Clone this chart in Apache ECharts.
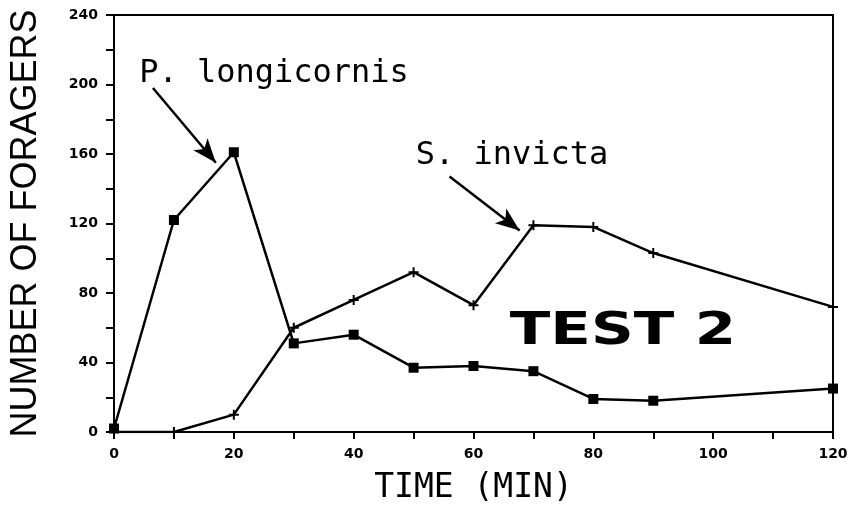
<!DOCTYPE html>
<html>
<head>
<meta charset="utf-8">
<script src="https://cdn.jsdelivr.net/npm/echarts@6/dist/echarts.min.js"></script>
<style>
  html, body { margin: 0; padding: 0; background: #fff; }
  #main { width: 856px; height: 510px; }
</style>
</head>
<body>
<div id="main"></div>
<script>
// time in minutes
var times = [0, 10, 20, 30, 40, 50, 60, 70, 80, 90, 120];
// number of foragers
var longicornis = [2, 122, 161, 51, 56, 37, 38, 35, 19, 18, 25];
var invicta = [0, 0, 10, 60, 76, 92, 73, 119, 118, 103, 72];

// arrows: [fromX, fromY, toX, toY] in data units
var arrowP = [6.5, 198, 17, 155];
var arrowS = [56, 147, 67.7, 116];

function pairs(xs, ys) {
    return xs.map(function (x, i) { return [x, ys[i]]; });
}

function arrow(a) {
    return [[{coord: [a[0], a[1]]}, {coord: [a[2], a[3]]}]];
}

var black = '#000';
var plus = 'path://M4,0H6V4H10V6H6V10H4V6H0V4H4Z';

var option = {
    backgroundColor: '#fff',
    animation: false,
    grid: {
        left: 111, right: 23, top: 15, bottom: 77,
        show: true, borderColor: black, borderWidth: 2
    },
    xAxis: {
        type: 'value',
        min: 0, max: 120, interval: 20,
        name: 'TIME (MIN)',
        nameLocation: 'middle',
        nameGap: 40,
        nameTextStyle: {color: black, fontSize: 33, fontFamily: 'DejaVu Sans Mono'},
        axisLine: {lineStyle: {color: black, width: 2}},
        axisTick: {length: 7, lineStyle: {color: black, width: 2}},
        minorTick: {show: true, splitNumber: 2, length: 7, lineStyle: {color: black, width: 2}},
        axisLabel: {color: black, fontSize: 14, fontWeight: 'bold', fontFamily: 'DejaVu Sans', margin: 15},
        splitLine: {show: false}
    },
    yAxis: {
        type: 'value',
        min: 0, max: 240, interval: 40,
        name: 'NUMBER OF FORAGERS',
        nameLocation: 'middle',
        nameGap: 70,
        nameTextStyle: {color: black, fontSize: 36, fontFamily: 'Liberation Sans'},
        axisLine: {lineStyle: {color: black, width: 2}},
        axisTick: {length: 8, lineStyle: {color: black, width: 2}},
        minorTick: {show: true, splitNumber: 2, length: 8, lineStyle: {color: black, width: 2}},
        axisLabel: {color: black, fontSize: 14, fontWeight: 'bold', fontFamily: 'DejaVu Sans', margin: 16},
        splitLine: {show: false}
    },
    series: [
        {
            name: 'P. longicornis',
            type: 'line',
            data: pairs(times, longicornis),
            symbol: 'rect',
            symbolSize: 10,
            itemStyle: {color: black},
            lineStyle: {color: black, width: 2.5},
            markLine: {
                silent: true,
                symbol: ['none', 'arrow'],
                symbolSize: [14, 24],
                label: {show: false},
                lineStyle: {color: black, width: 2.5, type: 'solid'},
                data: arrow(arrowP)
            }
        },
        {
            name: 'S. invicta',
            type: 'line',
            data: pairs(times, invicta),
            symbol: plus,
            symbolSize: 10,
            itemStyle: {color: black},
            lineStyle: {color: black, width: 2.5},
            markLine: {
                silent: true,
                symbol: ['none', 'arrow'],
                symbolSize: [14, 24],
                label: {show: false},
                lineStyle: {color: black, width: 2.5, type: 'solid'},
                data: arrow(arrowS)
            }
        }
    ],
    graphic: [
        {
            type: 'text', x: 274, y: 74,
            style: {text: 'P. longicornis', fill: black, font: '32px "DejaVu Sans Mono"', align: 'center', verticalAlign: 'middle'}
        },
        {
            type: 'text', x: 512, y: 156,
            style: {text: 'S. invicta', fill: black, font: '32px "DejaVu Sans Mono"', align: 'center', verticalAlign: 'middle'}
        },
        {
            type: 'text', x: 623, y: 333, scaleX: 1.35,
            style: {text: 'TEST 2', fill: black, font: 'bold 44px "DejaVu Sans"', align: 'center', verticalAlign: 'middle'}
        }
    ]
};

var myChart = echarts.init(document.getElementById('main'));
myChart.setOption(option);
</script>
</body>
</html>
